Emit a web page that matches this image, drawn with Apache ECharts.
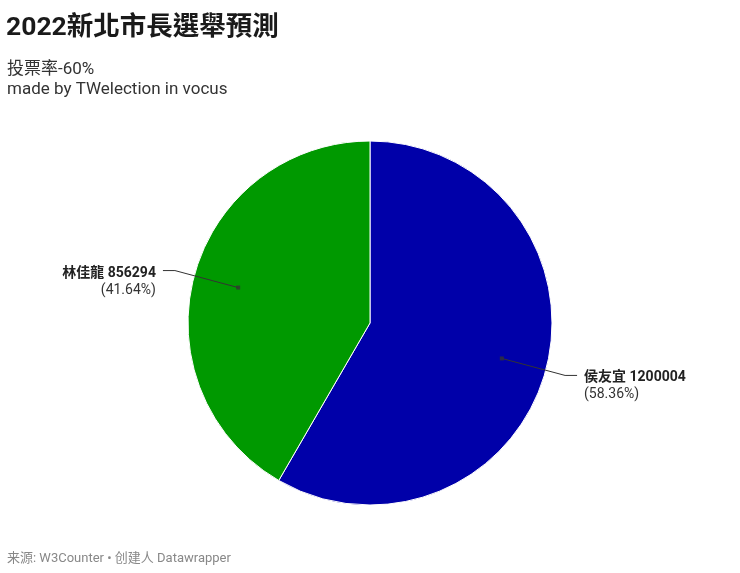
<!DOCTYPE html>
<html>
<head>
<meta charset="utf-8">
<script src="https://cdn.jsdelivr.net/npm/echarts@6/dist/echarts.min.js"></script>
<style>
html,body{margin:0;padding:0;background:#fff;}
#c{width:740px;height:573px;}
</style>
</head>
<body>
<div id="c"></div>
<script>
const names = ['侯友宜', '林佳龍'];
const values = [1200004, 856294];
const colors = ['#0000a9', '#009900'];

const FONT = 'Roboto, "Noto Sans CJK TC", sans-serif';
const total = values.reduce((a, b) => a + b, 0);
let cum = 0;
const dotData = values.map(v => { const mid = cum + v / 2; cum += v; return [0.75, mid]; });

const chart = echarts.init(document.getElementById('c'));
chart.setOption({
  backgroundColor: '#fff',
  animation: false,
  title: [
    { text: '2022新北市長選舉預測', left: 1, top: 10,
      textStyle: { fontFamily: FONT, fontSize: 26.5, fontWeight: 'bold', color: '#1a1a1a' } },
    { text: '投票率-60%\nmade by TWelection in vocus', left: 2, top: 55,
      textStyle: { fontFamily: FONT, fontSize: 17, fontWeight: 'normal', color: '#333', lineHeight: 20 } },
    { text: '来源: W3Counter • 创建人 Datawrapper', left: 2, top: 547,
      textStyle: { fontFamily: FONT, fontSize: 13, fontWeight: 'normal', color: '#888' } }
  ],
  polar: { center: [370, 323], radius: 182 },
  angleAxis: { type: 'value', min: 0, max: total, startAngle: 90, clockwise: true, show: false },
  radiusAxis: { type: 'value', min: 0, max: 1, show: false },
  series: [
    {
      type: 'pie',
      center: [370, 323],
      radius: [0, 182],
      startAngle: 90,
      clockwise: true,
      silent: true,
      label: { show: false },
      labelLine: { show: false },
      itemStyle: { borderColor: '#fff', borderWidth: 1 },
      data: names.map((n, i) => ({ name: n, value: values[i], itemStyle: { color: colors[i] } }))
    },
    {
      type: 'pie',
      center: [370, 323],
      radius: [0, 137],
      startAngle: 90,
      clockwise: true,
      silent: true,
      z: 3,
      itemStyle: { color: 'rgba(0,0,0,0)' },
      emphasis: { disabled: true },
      label: {
        show: true,
        position: 'outside',
        distanceToLabelLine: 7,
        padding: [22, 0, 0, 0],
        fontFamily: FONT,
        formatter: '{n|{b} {c}}\n{p|({d}%)}',
        rich: {
          n: { fontFamily: FONT, fontSize: 14, fontWeight: 'bold', color: '#222', lineHeight: 17 },
          p: { fontFamily: FONT, fontSize: 14, color: '#333', lineHeight: 17 }
        }
      },
      labelLine: { show: true, length: 65, length2: 12, smooth: false, lineStyle: { color: '#333', width: 1 } },
      data: names.map((n, i) => ({ name: n, value: values[i] }))
    },
    {
      type: 'scatter',
      coordinateSystem: 'polar',
      symbol: 'rect',
      symbolSize: 4,
      silent: true,
      z: 4,
      itemStyle: { color: '#333' },
      data: dotData
    }
  ]
});
</script>
</body>
</html>
